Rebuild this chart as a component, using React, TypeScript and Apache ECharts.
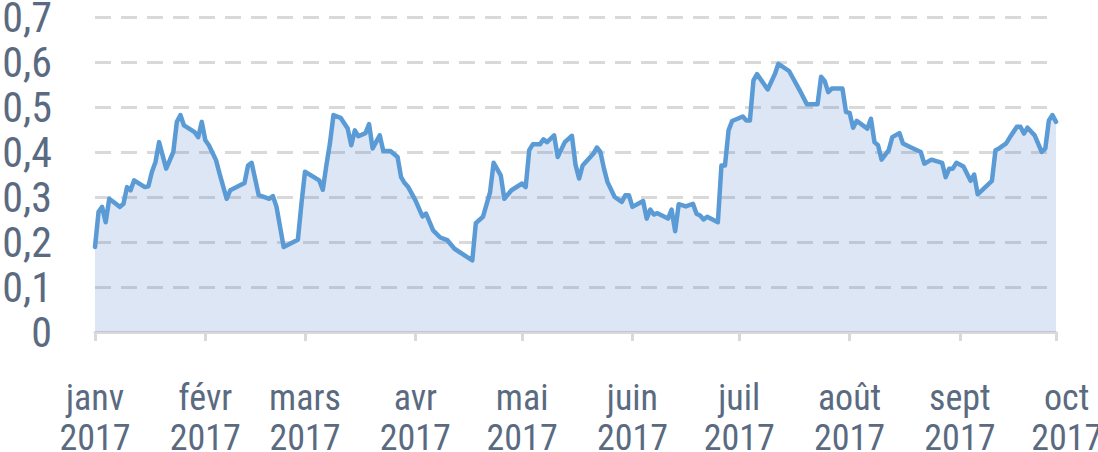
import React, { useEffect, useRef } from "react";
import * as echarts from "echarts";

const dates: string[] = [
  "2017-01-01","2017-01-02","2017-01-03","2017-01-04","2017-01-05","2017-01-08","2017-01-09","2017-01-10","2017-01-11","2017-01-12",
  "2017-01-15","2017-01-16","2017-01-17","2017-01-18","2017-01-19","2017-01-21","2017-01-23","2017-01-24","2017-01-25","2017-01-26",
  "2017-01-29","2017-01-30","2017-01-31","2017-02-01","2017-02-02","2017-02-04","2017-02-05","2017-02-07","2017-02-08","2017-02-12",
  "2017-02-13","2017-02-14","2017-02-16","2017-02-19","2017-02-20","2017-02-21","2017-02-23","2017-02-27","2017-02-28","2017-03-01",
  "2017-03-05","2017-03-06","2017-03-07","2017-03-08","2017-03-09","2017-03-11","2017-03-13","2017-03-14","2017-03-15","2017-03-16",
  "2017-03-18","2017-03-19","2017-03-20","2017-03-22","2017-03-23","2017-03-25","2017-03-27","2017-03-28","2017-03-29","2017-03-30",
  "2017-04-01","2017-04-03","2017-04-04","2017-04-06","2017-04-08","2017-04-10","2017-04-12","2017-04-17","2017-04-18","2017-04-20",
  "2017-04-22","2017-04-23","2017-04-25","2017-04-26","2017-04-28","2017-05-01","2017-05-02","2017-05-03","2017-05-04","2017-05-06",
  "2017-05-07","2017-05-08","2017-05-10","2017-05-11","2017-05-13","2017-05-15","2017-05-16","2017-05-17","2017-05-18","2017-05-21",
  "2017-05-22","2017-05-23","2017-05-24","2017-05-25","2017-05-27","2017-05-29","2017-05-30","2017-05-31","2017-06-01","2017-06-04",
  "2017-06-05","2017-06-06","2017-06-07","2017-06-08","2017-06-11","2017-06-12","2017-06-13","2017-06-14","2017-06-16","2017-06-18",
  "2017-06-19","2017-06-20","2017-06-21","2017-06-22","2017-06-25","2017-06-26","2017-06-27","2017-06-28","2017-06-29","2017-07-02",
  "2017-07-03","2017-07-04","2017-07-05","2017-07-06","2017-07-09","2017-07-11","2017-07-12","2017-07-15","2017-07-18","2017-07-20",
  "2017-07-23","2017-07-24","2017-07-25","2017-07-26","2017-07-27","2017-07-30","2017-07-31","2017-08-01","2017-08-02","2017-08-03",
  "2017-08-06","2017-08-07","2017-08-08","2017-08-09","2017-08-10","2017-08-12","2017-08-13","2017-08-15","2017-08-16","2017-08-18",
  "2017-08-21","2017-08-22","2017-08-24","2017-08-27","2017-08-28","2017-08-29","2017-08-30","2017-08-31","2017-09-02","2017-09-04",
  "2017-09-05","2017-09-06","2017-09-10","2017-09-11","2017-09-12","2017-09-14","2017-09-15","2017-09-17","2017-09-18","2017-09-19",
  "2017-09-20","2017-09-22","2017-09-24","2017-09-25","2017-09-26","2017-09-27","2017-09-28"
];

const values: number[] = [
  0.189,0.267,0.278,0.244,0.296,0.278,0.285,0.322,0.315,0.337,
  0.322,0.324,0.356,0.378,0.422,0.363,0.400,0.467,0.482,0.459,
  0.444,0.433,0.467,0.426,0.415,0.382,0.352,0.296,0.315,0.331,
  0.370,0.376,0.304,0.296,0.302,0.278,0.189,0.205,0.285,0.356,
  0.337,0.316,0.370,0.419,0.482,0.476,0.452,0.415,0.448,0.435,
  0.442,0.462,0.408,0.437,0.402,0.402,0.389,0.344,0.331,0.322,
  0.293,0.257,0.263,0.226,0.210,0.204,0.185,0.159,0.242,0.256,
  0.311,0.376,0.348,0.296,0.315,0.330,0.322,0.404,0.417,0.417,
  0.428,0.422,0.437,0.389,0.422,0.436,0.372,0.341,0.370,0.396,
  0.410,0.400,0.363,0.333,0.300,0.289,0.304,0.304,0.278,0.291,
  0.252,0.272,0.261,0.264,0.252,0.272,0.224,0.284,0.279,0.285,
  0.263,0.259,0.250,0.256,0.244,0.370,0.370,0.448,0.469,0.479,
  0.470,0.470,0.559,0.573,0.539,0.573,0.596,0.580,0.537,0.506,
  0.506,0.567,0.558,0.533,0.541,0.541,0.489,0.487,0.454,0.469,
  0.452,0.474,0.422,0.415,0.383,0.404,0.433,0.442,0.419,0.411,
  0.400,0.374,0.383,0.376,0.344,0.363,0.363,0.376,0.368,0.336,
  0.350,0.306,0.336,0.404,0.408,0.419,0.432,0.456,0.456,0.441,
  0.454,0.437,0.400,0.408,0.470,0.482,0.467
];

const axisEndDate = "2017-10-01";
const monthNames: string[] = ["janv","févr","mars","avr","mai","juin","juil","août","sept","oct","nov","déc"];
const yTicks: number[] = [0, 0.7, 0.1];

const FONT = "'Liberation Sans Narrow', 'Roboto Condensed', 'Liberation Sans', sans-serif";
const TEXT = "#5a6a80";
const GRID_GRAY = "#d9d9d9";

export default function App() {
  const ref = useRef<HTMLDivElement>(null);
  useEffect(() => {
    document.body.style.margin = "0";
    if (!ref.current) return;
    const chart = echarts.init(ref.current, undefined, { renderer: "svg" });
    const start = dates[0];
    const end = dates[dates.length - 1];
    const dayMs = 86400000;
    const t = (s: string) => new Date(s + "T00:00:00").getTime();
    const span0 = (t(end) - t(start)) / dayMs;
    const span1 = (t(axisEndDate) - t(start)) / dayMs;
    const left = 95;
    const width0 = 961;
    const width1 = (width0 * span1) / span0;
    chart.setOption({
      animation: false,
      grid: [
        { left, top: 17, width: width0, height: 315, outerBoundsMode: "none", containLabel: false },
        { left, top: 17, width: width1, height: 315, outerBoundsMode: "none", containLabel: false },
      ],
      xAxis: [
        {
          type: "time",
          gridIndex: 0,
          min: start,
          max: end,
          splitNumber: 9,
          axisLine: { show: true, lineStyle: { color: GRID_GRAY, width: 3 } },
          axisTick: { show: true, length: 9, lineStyle: { color: GRID_GRAY, width: 3 } },
          axisLabel: { show: false },
          splitLine: { show: false },
        },
        {
          type: "time",
          gridIndex: 1,
          min: start,
          max: axisEndDate,
          splitNumber: 9,
          axisLine: { show: false },
          axisTick: { show: false },
          splitLine: { show: false },
          axisLabel: {
            show: true,
            margin: 46,
            showMinLabel: true,
            showMaxLabel: true,
            hideOverlap: false,
            color: TEXT,
            fontFamily: FONT,
            fontSize: 36,
            lineHeight: 40,
            formatter: (v: number) => {
              const d = new Date(v);
              return monthNames[d.getMonth()] + "\n" + d.getFullYear();
            },
          },
        },
      ],
      yAxis: [
        {
          type: "value",
          gridIndex: 0,
          min: yTicks[0],
          max: yTicks[1],
          interval: yTicks[2],
          axisLine: { show: false },
          axisTick: { show: false },
          axisLabel: {
            margin: 43,
            color: TEXT,
            fontFamily: FONT,
            fontSize: 42,
            formatter: (v: number) => (v === 0 ? "0" : v.toFixed(1).replace(".", ",")),
          },
          splitLine: {
            show: true,
            lineStyle: { color: GRID_GRAY, width: 3, type: [16, 10] },
          },
        },
        {
          type: "value",
          gridIndex: 1,
          min: 0,
          max: 0.7,
          show: false,
        },
      ],
      series: [
        {
          type: "line",
          xAxisIndex: 0,
          yAxisIndex: 0,
          data: dates.map((d, i) => [d, values[i]]),
          showSymbol: false,
          symbol: "none",
          lineStyle: { color: "#5b9bd5", width: 4.5, join: "round", cap: "round" },
          areaStyle: { color: "rgba(68,114,196,0.18)", opacity: 1, origin: "start" },
          z: 3,
        },
      ],
    });
    return () => chart.dispose();
  }, []);
  return <div ref={ref} style={{ width: 1098, height: 452 }} />;
}
